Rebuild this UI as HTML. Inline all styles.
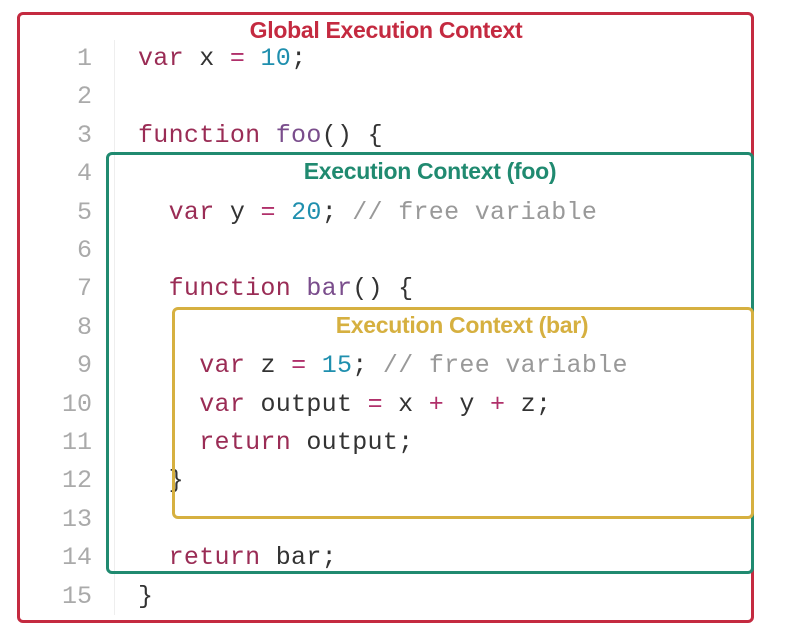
<!DOCTYPE html>
<html><head><style>
body{margin:0;width:785px;height:638px;background:#fff;position:relative;overflow:hidden;font-family:"Liberation Mono",monospace}
.ln{position:absolute;left:36px;width:56px;text-align:right;font-size:25px;color:#aaa;line-height:38.4px}
.code{position:absolute;left:138px;font-size:25px;letter-spacing:0.3px;color:#333;white-space:pre;line-height:38.4px}
.k{color:#9a2c55}.n{color:#1f8fae}.f{color:#7a4d8c}.c{color:#999}.o{color:#b0306a}
.box{position:absolute;border:3px solid;border-radius:6px;box-sizing:border-box}
.lab{position:absolute;font-family:"Liberation Sans",sans-serif;font-weight:bold;font-size:23px;letter-spacing:-0.3px;transform:translateX(-50%);white-space:nowrap}
</style></head><body>
<div style="position:absolute;left:114px;top:40px;width:1px;height:575px;background:#eee"></div>
<div class="ln" style="top:40px">1<br>2<br>3<br>4<br>5<br>6<br>7<br>8<br>9<br>10<br>11<br>12<br>13<br>14<br>15</div>
<div class="code" style="top:40px"><span class="k">var</span> x <span class="o">=</span> <span class="n">10</span>;

<span class="k">function</span> <span class="f">foo</span>() {

  <span class="k">var</span> y <span class="o">=</span> <span class="n">20</span>; <span class="c">// free variable</span>

  <span class="k">function</span> <span class="f">bar</span>() {

    <span class="k">var</span> z <span class="o">=</span> <span class="n">15</span>; <span class="c">// free variable</span>
    <span class="k">var</span> output <span class="o">=</span> x <span class="o">+</span> y <span class="o">+</span> z;
    <span class="k">return</span> output;
  }

  <span class="k">return</span> bar;
}</div>
<div class="box" style="left:17px;top:12px;width:737px;height:611px;border-color:#c42a40"></div>
<div class="box" style="left:106px;top:152px;width:648px;height:422px;border-color:#208a70"></div>
<div class="box" style="left:172px;top:307px;width:582px;height:212px;border-color:#d6b040"></div>
<div class="lab" style="left:386px;top:17px;color:#c42a40">Global Execution Context</div>
<div class="lab" style="left:430px;top:158px;color:#208a70">Execution Context (foo)</div>
<div class="lab" style="left:462px;top:312px;color:#d6b040">Execution Context (bar)</div>
</body></html>
